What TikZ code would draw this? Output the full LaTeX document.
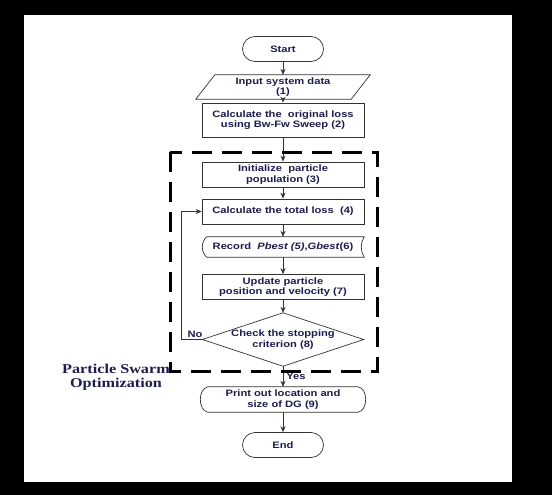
\documentclass[tikz,border=0pt]{standalone}
\usepackage{fontspec}
\newfontfamily\flowfont{Liberation Sans}[FakeStretch=1.2]
\newfontfamily\psofont{Liberation Serif}[FakeStretch=1.2]
\usetikzlibrary{shapes.misc,arrows.meta,calc}
\definecolor{ink}{HTML}{1C1C4E}
\definecolor{edge}{HTML}{333333}

\begin{document}
\begin{tikzpicture}[x=1pt, y=-1pt, >={Stealth[length=6pt,width=5pt]},
    txt/.style={text=ink, font={\flowfont\bfseries\fontsize{9.3}{10.5}\selectfont}, align=center, inner sep=0pt},
    line/.style={draw=edge, line width=.7pt},
    box/.style={txt, line, minimum width=162pt, minimum height=25pt},
    term/.style={txt, line, rounded rectangle, minimum width=81pt, minimum height=25pt},
    bare/.style={txt, minimum width=#1, minimum height=24pt},
    flow/.style={line, ->}]

\fill (0,0) rectangle (552,495);
\fill[white] (24,15) rectangle (512,482);
\useasboundingbox (0,0) rectangle (552,495);

\node[term] (start) at (283,49) {Start};
\node[bare=155pt] (input) at (283,87) {Input system data\\(1)};
\draw[line] ([xshift=-9.5pt]input.south west) -- ([xshift=9.5pt]input.north west) -- ([xshift=9.5pt]input.north east) -- ([xshift=-9.5pt]input.south east) -- cycle;
\node[box, minimum height=34pt] (orig) at (283,120) {Calculate the \ original loss\\using Bw-Fw Sweep (2)};
\node[box] (init) at (283,174.5) {Initialize \ particle\\population (3)};
\node[box] (total) at (283,211.5) {Calculate the total loss \ (4)};
\node[bare=162pt, minimum height=20pt] (rec) at (283,247) {Record \ \textit{Pbest (5)},\textit{Gbest}(6)};
\draw[line] ([xshift=5pt]rec.north west) -- (rec.north east)
    .. controls ($(rec.north east)+(-4,6)$) and ($(rec.south east)+(-4,-6)$) .. (rec.south east)
    -- ([xshift=5pt]rec.south west)
    .. controls ($(rec.south west)+(-1,-5)$) and ($(rec.north west)+(-1,5)$) .. ([xshift=5pt]rec.north west) -- cycle;
\node[box] (upd) at (283,287) {Update particle\\position and velocity (7)};
\node[bare=161pt, minimum height=53pt] (chk) at (283,339.5) {Check the stopping\\criterion (8)};
\draw[line] (chk.north) -- (chk.east) -- (chk.south) -- (chk.west) -- cycle;
\node[bare=150pt, minimum height=25pt] (prn) at (283,399.5) {Print out location and\\size of DG (9)};
\draw[line] (prn.north west) -- (prn.north east)
    .. controls ($(prn.north east)+(10,2)$) and ($(prn.south east)+(10,-2)$) .. (prn.south east)
    -- (prn.south west)
    .. controls ($(prn.south west)+(-10,-2)$) and ($(prn.north west)+(-10,2)$) .. (prn.north west) -- cycle;
\node[term] (end) at (283,445) {End};

\foreach \a/\b in {start/input, input/orig, orig/init, init/total, total/rec, rec/upd, upd/chk, prn/end}
{
    \draw[flow] (\a.south) -- (\b.north);
}
\draw[flow] (chk.south) -- node[txt, right=3pt]{Yes} (prn.north);
\draw[flow] (chk.west) -- node[txt, pos=.35, above=2pt]{No} ++(-21,0) |- (total.west);

\draw[line width=3pt, dash pattern=on 20pt off 10pt] (170,152) rectangle (377,371);
\node[text=ink, font={\psofont\bfseries\fontsize{13.5}{14}\selectfont}, align=center, inner sep=0pt] (pso) at (116,377) {Particle Swarm\\Optimization};

\end{tikzpicture}
\end{document}
